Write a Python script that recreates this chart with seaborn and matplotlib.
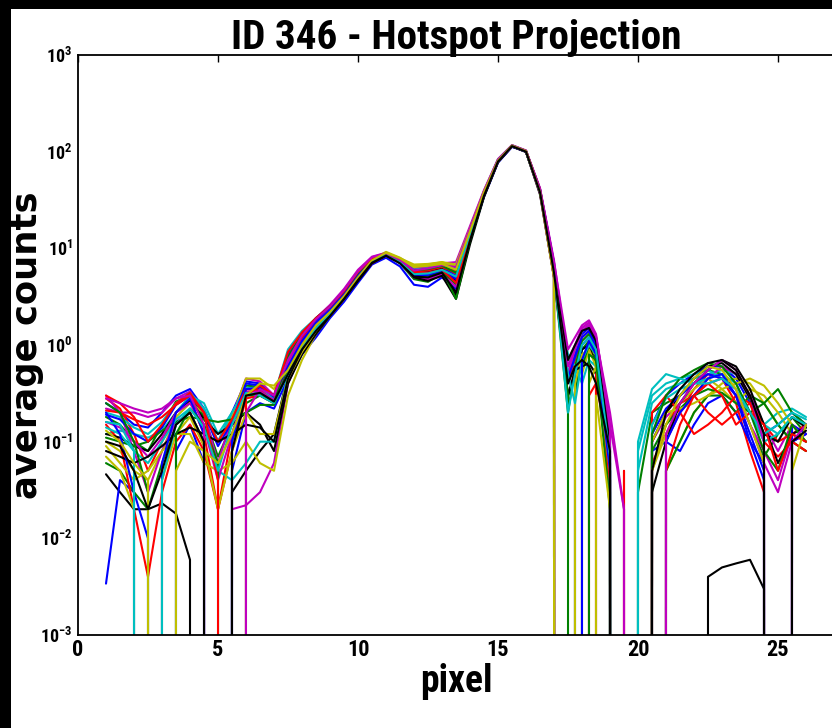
import math
import matplotlib
matplotlib.use("Agg")
import matplotlib.pyplot as plt
from matplotlib import font_manager
from matplotlib.patches import Rectangle
from matplotlib.ticker import FuncFormatter, FixedLocator, LogLocator, NullFormatter
import seaborn as sns
import pandas as pd

# ---------------- data ----------------
title = "ID 346 - Hotspot Projection"
x_label = "pixel"
y_label = "average counts"
x_ticks = [0, 5, 10, 15, 20, 25]
y_ticks = [1e-3, 1e-2, 1e-1, 1e0, 1e1, 1e2, 1e3]

pixel = [1.0, 1.5, 2.0, 2.5, 3.0, 3.5, 4.0, 4.5, 5.0, 5.5, 6.0, 6.5, 7.0,
         7.5, 8.0, 8.5, 9.0, 9.5, 10.0, 10.5, 11.0, 11.5, 12.0, 12.5, 13.0,
         13.5, 14.0, 14.5, 15.0, 15.5, 16.0, 16.5, 17.0,
         17.5, 17.75, 18.0, 18.25, 18.5, 19.0,
         19.5, 20.0, 20.5, 21.0, 21.5, 22.0, 22.5, 23.0, 23.5, 24.0, 24.5,
         25.0, 25.5, 26.0]

series_b1 = [0.25, 0.2, 0.15, 0.14, 0.2, 0.3, 0.35, 0.22, 0.1, 0.2, 0.42, 0.4, 0.3,
             0.8, 1.3, 1.8, 2.4, 3.5, 5.5, 7.8, 8.8, 7.5, 5.5, 5.8, 6.5, 6.0, 15, 38, 82, 116, 102, 40, 6.5,
             0.5, 0.8, 1.3, 1.5, 1.0, 0.08,
             0, 0, 0.15, 0.3, 0.4, 0.5, 0.6, 0.6, 0.45, 0.25, 0.12, 0.15, 0.2, 0.15]
series_g1 = [0.18, 0.15, 0.1, 0.08, 0.15, 0.26, 0.3, 0.18, 0.07, 0.15, 0.38, 0.37, 0.28,
             0.6, 1.1, 1.6, 2.2, 3.2, 5.0, 7.2, 8.5, 7.0, 4.8, 4.5, 5.5, 4.5, 13, 36, 80, 114, 100, 38, 6.0,
             0, 0.3, 0.9, 1.1, 0.7, 0.03,
             0, 0.03, 0.2, 0.25, 0.3, 0.4, 0.55, 0.5, 0.35, 0.15, 0.07, 0.12, 0.18, 0.12]
series_r1 = [0.28, 0.22, 0.12, 0.05, 0.1, 0.2, 0.27, 0.12, 0.02, 0.12, 0.35, 0.35, 0.27,
             0.7, 1.2, 1.7, 2.3, 3.3, 5.2, 7.5, 8.6, 7.4, 5.6, 5.9, 6.3, 5.5, 14, 37, 81, 115, 101, 39, 5.5,
             0.4, 0.7, 1.2, 1.4, 0.9, 0.05,
             0, 0, 0.06, 0.12, 0.2, 0.35, 0.5, 0.45, 0.25, 0.08, 0.03, 0, 0.12, 0.15]
series_c1 = [0.12, 0.13, 0.12, 0.11, 0.13, 0.2, 0.3, 0.25, 0.12, 0.2, 0.3, 0.33, 0.3,
             0.9, 1.4, 1.9, 2.5, 3.7, 5.8, 8.0, 8.9, 7.6, 6.0, 6.3, 6.8, 6.8, 16, 39, 83, 116, 102, 41, 7.0,
             0.6, 0.9, 1.4, 1.6, 1.1, 0.1,
             0, 0.05, 0.25, 0.35, 0.4, 0.45, 0.5, 0.55, 0.5, 0.3, 0.15, 0.2, 0.22, 0.18]
series_m1 = [0.22, 0.2, 0.2, 0.18, 0.2, 0.28, 0.33, 0.2, 0.06, 0.18, 0.45, 0.42, 0.3,
             0.75, 1.3, 1.9, 2.6, 3.8, 6.0, 8.2, 9.0, 7.8, 6.2, 6.5, 7.0, 7.2, 17, 40, 84, 117, 103, 42, 7.5,
             0.7, 1.0, 1.5, 1.7, 1.2, 0.12,
             0, 0, 0.1, 0.18, 0.25, 0.3, 0.45, 0.6, 0.5, 0.3, 0.15, 0.08, 0.15, 0.12]
series_y1 = [0.1, 0.08, 0.05, 0.04, 0.08, 0.18, 0.25, 0.2, 0.1, 0.18, 0.45, 0.45, 0.35,
             0.6, 1.0, 1.5, 2.1, 3.1, 4.8, 7.6, 9.2, 8.0, 6.5, 6.8, 7.2, 6.5, 14, 37, 80, 114, 100, 37, 5.0,
             0, 0, 0.5, 0.9, 0.8, 0.06,
             0, 0, 0, 0.05, 0.1, 0.2, 0.3, 0.4, 0.45, 0.4, 0.25, 0.15, 0.1, 0.08]
series_k1 = [0.046, 0.03, 0.02, 0.02, 0.023, 0.018, 0.006, 0, 0, 0.03, 0.05, 0.08, 0.12,
             0.5, 0.9, 1.5, 2.0, 3.0, 4.6, 7.0, 8.2, 7.2, 5.8, 6.0, 6.2, 3.2, 12, 35, 78, 113, 99, 36, 5.0,
             0.3, 0.5, 0.9, 1.0, 0.6, 0.04,
             0, 0, 0, 0, 0, 0, 0.004, 0.005, 0.0055, 0.006, 0.003, 0, 0, 0]
series_b2 = [0.0034, 0.04, 0.03, 0.01, 0, 0.08, 0.15, 0.06, 0, 0.05, 0.2, 0.25, 0.22,
             0.45, 0.8, 1.2, 1.9, 2.8, 4.4, 6.8, 8.0, 6.5, 4.2, 4.0, 5.0, 3.8, 12, 34, 77, 112, 101, 41, 7.0,
             0, 0.5, 1.0, 1.2, 0.8, 0.05,
             0, 0, 0.08, 0.1, 0.08, 0.15, 0.25, 0.3, 0.2, 0.1, 0.06, 0, 0.1, 0.12]
series_g2 = [0.06, 0.05, 0.03, 0.02, 0.06, 0.15, 0.2, 0.1, 0, 0.1, 0.3, 0.3, 0.26,
             0.65, 1.15, 1.7, 2.3, 3.4, 5.3, 7.6, 8.6, 7.3, 5.2, 5.2, 5.8, 4.2, 13, 36, 80, 114, 100, 38, 5.5,
             0.2, 0.6, 1.1, 1.3, 0.9, 0.06,
             0, 0, 0, 0.05, 0.1, 0.2, 0.3, 0.3, 0.2, 0.3, 0.25, 0.15, 0.1, 0.08]
series_r2 = [0.15, 0.1, 0.02, 0.004, 0.03, 0.1, 0.15, 0.08, 0.02, 0.08, 0.28, 0.3, 0.25,
             0.55, 1.0, 1.6, 2.2, 3.2, 5.0, 7.4, 8.6, 7.2, 5.4, 5.6, 6.0, 5.2, 14, 37, 81, 115, 101, 39, 6.0,
             0, 0, 0, 0.3, 0.4, 0,
             0.05, 0, 0.05, 0.15, 0.25, 0.3, 0.2, 0.15, 0.2, 0.25, 0.15, 0.1, 0.12, 0.1]
series_c2 = [0.2, 0.18, 0.14, 0.12, 0.16, 0.25, 0.32, 0.22, 0.1, 0.2, 0.36, 0.36, 0.28,
             0.7, 1.2, 1.8, 2.4, 3.5, 5.5, 7.8, 8.7, 7.4, 5.8, 6.0, 6.4, 6.2, 15, 38, 82, 115, 101, 40, 6.0,
             0.8, 0.6, 0.4, 0.7, 0.6, 0.05,
             0, 0.08, 0.3, 0.4, 0.45, 0.5, 0.55, 0.45, 0.3, 0.2, 0.15, 0.12, 0.18, 0.15]
series_m2 = [0.3, 0.2, 0.08, 0.03, 0.08, 0.16, 0.2, 0.09, 0, 0.02, 0.022, 0.03, 0.06,
             0.4, 0.85, 1.4, 2.0, 3.0, 4.7, 7.0, 8.4, 7.1, 5.0, 4.8, 5.4, 4.0, 12, 35, 79, 114, 100, 37, 5.0,
             0.5, 0.9, 1.4, 1.6, 1.2, 0.2,
             0.02, 0, 0.1, 0.2, 0.3, 0.4, 0.5, 0.45, 0.3, 0.15, 0.08, 0.04, 0.12, 0.1]
series_y2 = [0.09, 0.06, 0.04, 0.05, 0.08, 0.12, 0.12, 0.06, 0.05, 0.06, 0.1, 0.06, 0.05,
             0.3, 0.7, 1.3, 2.0, 3.0, 4.8, 7.3, 8.8, 7.8, 6.6, 6.8, 7.0, 6.5, 15, 38, 81, 115, 101, 38, 5.5,
             0, 0.4, 0.8, 0.9, 0.6, 0.04,
             0, 0, 0.05, 0.12, 0.25, 0.35, 0.45, 0.35, 0.25, 0.35, 0.3, 0.2, 0.12, 0.1]
series_k2 = [0.12, 0.11, 0.09, 0.08, 0.12, 0.2, 0.27, 0.17, 0.12, 0.15, 0.2, 0.15, 0.08,
             0.4, 0.8, 1.3, 2.0, 3.0, 4.6, 7.0, 8.4, 7.2, 5.0, 4.6, 5.2, 3.0, 11, 34, 78, 113, 100, 38, 5.8,
             0.3, 0.55, 0.6, 0.65, 0.5, 0.1,
             0, 0, 0.1, 0.2, 0.3, 0.45, 0.6, 0.65, 0.5, 0.28, 0.12, 0.1, 0.18, 0.14]
series_b3 = [0.19, 0.17, 0.12, 0.1, 0.14, 0.24, 0.3, 0.2, 0.09, 0.16, 0.4, 0.38, 0.29,
             0.75, 1.25, 1.8, 2.4, 3.5, 5.4, 7.7, 8.7, 7.4, 5.6, 5.7, 6.2, 5.2, 14, 37, 81, 115, 101, 39, 6.2,
             0.45, 0.75, 1.2, 1.4, 0.95, 0.07,
             0, 0, 0.12, 0.22, 0.3, 0.4, 0.5, 0.45, 0.3, 0.12, 0.05, 0, 0.15, 0.12]
series_g3 = [0.11, 0.1, 0.09, 0.1, 0.13, 0.16, 0.18, 0.17, 0.16, 0.17, 0.2, 0.24, 0.24,
             0.55, 1.0, 1.6, 2.2, 3.2, 5.0, 7.4, 8.6, 7.3, 5.5, 5.5, 6.0, 3.0, 12, 35, 79, 114, 100, 38, 6.0,
             0, 0, 0.6, 1.0, 0.8, 0.05,
             0, 0, 0.08, 0.15, 0.22, 0.3, 0.35, 0.32, 0.25, 0.2, 0.25, 0.35, 0.2, 0.15]
series_r3 = [0.21, 0.2, 0.17, 0.15, 0.18, 0.24, 0.3, 0.2, 0.1, 0.17, 0.35, 0.34, 0.26,
             0.7, 1.2, 1.7, 2.3, 3.4, 5.3, 7.6, 8.7, 7.3, 5.7, 5.9, 6.3, 5.8, 14, 37, 81, 115, 101, 39, 6.0,
             0, 0, 0, 0, 0.5, 0.04,
             0, 0, 0.2, 0.3, 0.2, 0.12, 0.15, 0.2, 0.3, 0.25, 0.1, 0.07, 0.1, 0.08]
series_c3 = [0.14, 0.12, 0.08, 0.06, 0.1, 0.17, 0.22, 0.15, 0.05, 0.04, 0.06, 0.1, 0.1,
             0.5, 0.9, 1.5, 2.1, 3.1, 4.9, 7.3, 8.6, 7.5, 6.0, 6.2, 6.6, 6.2, 15, 38, 82, 116, 102, 40, 6.5,
             0.5, 0.25, 0.7, 1.0, 0.8, 0.06,
             0, 0, 0.15, 0.28, 0.35, 0.4, 0.45, 0.5, 0.4, 0.2, 0.1, 0.12, 0.18, 0.15]
series_m3 = [0.16, 0.14, 0.1, 0.07, 0.11, 0.2, 0.25, 0.14, 0.04, 0.12, 0.33, 0.33, 0.27,
             0.65, 1.1, 1.7, 2.3, 3.3, 5.1, 7.5, 8.7, 7.4, 5.4, 5.4, 6.0, 5.0, 14, 37, 80, 114, 100, 38, 5.8,
             0.6, 0.95, 1.5, 1.7, 1.25, 0.15,
             0.02, 0, 0, 0.1, 0.2, 0.3, 0.4, 0.45, 0.35, 0.15, 0.06, 0.03, 0.1, 0.12]
series_y3 = [0.07, 0.05, 0.02, 0, 0.04, 0.12, 0.18, 0.09, 0.02, 0.08, 0.2, 0.12, 0.12,
             0.45, 0.85, 1.4, 2.1, 3.1, 4.9, 7.4, 8.9, 7.9, 6.8, 6.9, 7.2, 6.8, 16, 39, 82, 116, 102, 39, 5.0,
             0, 0, 0, 0.4, 0.6, 0.05,
             0, 0, 0.1, 0.2, 0.22, 0.25, 0.3, 0.35, 0.4, 0.45, 0.38, 0.25, 0.15, 0.1]
series_k3 = [0.08, 0.07, 0.06, 0.07, 0.09, 0.12, 0.14, 0.12, 0.1, 0.12, 0.15, 0.14, 0.1,
             0.45, 0.9, 1.5, 2.1, 3.1, 4.8, 7.2, 8.5, 7.2, 5.5, 5.6, 6.1, 4.6, 13, 36, 80, 114, 101, 39, 6.2,
             0.7, 1.0, 1.4, 1.5, 1.1, 0.09,
             0, 0, 0.03, 0.1, 0.25, 0.4, 0.55, 0.7, 0.6, 0.35, 0.15, 0.06, 0.12, 0.14]
series_b4 = [0.2, 0.12, 0.03, 0, 0.06, 0.2, 0.28, 0.12, 0, 0.1, 0.35, 0.36, 0.3,
             0.6, 1.1, 1.7, 2.3, 3.4, 5.3, 7.6, 8.6, 7.2, 5.3, 5.3, 5.9, 4.8, 13, 36, 80, 114, 100, 38, 5.8,
             0, 0, 0.7, 1.1, 0.8, 0.05,
             0, 0, 0, 0.1, 0.2, 0.3, 0.45, 0.5, 0.3, 0.1, 0.04, 0, 0.1, 0.12]
series_g4 = [0.25, 0.2, 0.1, 0.03, 0, 0.12, 0.22, 0.15, 0.06, 0, 0.25, 0.3, 0.25,
             0.75, 1.3, 1.9, 2.5, 3.6, 5.6, 7.9, 8.8, 7.5, 5.9, 6.1, 6.6, 5.6, 14, 37, 81, 115, 101, 39, 6.0,
             0.3, 0, 0, 0.8, 0.7, 0.02,
             0, 0, 0.12, 0.3, 0.45, 0.55, 0.65, 0.6, 0.4, 0.2, 0.08, 0.05, 0.15, 0.1]
series_r4 = [0.3, 0.25, 0.18, 0.1, 0.15, 0.25, 0.32, 0.2, 0.04, 0, 0.3, 0.38, 0.3,
             0.85, 1.35, 1.9, 2.5, 3.6, 5.7, 7.9, 8.9, 7.6, 5.7, 5.6, 6.0, 4.4, 13, 36, 80, 115, 102, 41, 6.8,
             0, 0, 0, 0, 0, 0,
             0, 0, 0, 0.05, 0.15, 0.3, 0.4, 0.3, 0.15, 0.2, 0.15, 0.05, 0.12, 0.1]
series_c4 = [0.16, 0.15, 0.08, 0, 0.04, 0.15, 0.22, 0.14, 0.05, 0.15, 0.32, 0.3, 0.25,
             0.5, 0.95, 1.5, 2.1, 3.1, 4.9, 7.3, 8.5, 7.2, 5.4, 5.5, 6.0, 5.1, 14, 37, 81, 115, 101, 39, 6.2,
             0.2, 0.5, 1.0, 1.2, 0.9, 0.07,
             0, 0.1, 0.35, 0.5, 0.45, 0.4, 0.4, 0.45, 0.35, 0.2, 0.12, 0.15, 0.2, 0.17]
series_m4 = [0.28, 0.25, 0.22, 0.2, 0.22, 0.28, 0.3, 0.15, 0, 0, 0.2, 0.35, 0.3,
             0.7, 1.25, 1.85, 2.5, 3.7, 5.8, 8.1, 8.9, 7.6, 5.9, 6.2, 6.7, 6.4, 16, 39, 83, 116, 102, 41, 7.2,
             0.9, 1.2, 1.6, 1.8, 1.3, 0.15,
             0, 0, 0, 0.12, 0.25, 0.4, 0.55, 0.7, 0.55, 0.3, 0.1, 0, 0.1, 0.15]
series_y4 = [0.13, 0.1, 0.06, 0.04, 0, 0.05, 0.1, 0.08, 0.06, 0.12, 0.3, 0.4, 0.38,
             0.55, 1.0, 1.6, 2.2, 3.2, 5.0, 7.5, 9.0, 7.9, 6.4, 6.6, 6.9, 6.0, 15, 38, 81, 115, 101, 38, 5.2,
             0, 0, 0, 0, 0.3, 0.02,
             0, 0, 0.05, 0.15, 0.3, 0.45, 0.6, 0.55, 0.35, 0.15, 0.06, 0, 0.05, 0.15]
series_k4 = [0.1, 0.09, 0.05, 0.02, 0.05, 0.15, 0.2, 0.1, 0, 0.08, 0.3, 0.32, 0.26,
             0.5, 0.9, 1.4, 2.0, 3.0, 4.7, 7.1, 8.4, 7.0, 5.1, 5.0, 5.6, 3.5, 12, 35, 79, 114, 100, 38, 5.6,
             0.4, 0.6, 0.7, 0.6, 0.4, 0.08,
             0, 0, 0.05, 0.2, 0.35, 0.5, 0.65, 0.7, 0.55, 0.3, 0.12, 0, 0.1, 0.13]

series = {
    "b1": series_b1, "g1": series_g1, "r1": series_r1, "c1": series_c1,
    "m1": series_m1, "y1": series_y1, "k1": series_k1,
    "b2": series_b2, "g2": series_g2, "r2": series_r2, "c2": series_c2,
    "m2": series_m2, "y2": series_y2, "k2": series_k2,
    "b3": series_b3, "g3": series_g3, "r3": series_r3, "c3": series_c3,
    "m3": series_m3, "y3": series_y3, "k3": series_k3,
    "b4": series_b4, "g4": series_g4, "r4": series_r4, "c4": series_c4,
    "m4": series_m4, "y4": series_y4, "k4": series_k4,
}
classic = {"b": "#0000ff", "g": "#008000", "r": "#ff0000", "c": "#00bfbf",
           "m": "#bf00bf", "y": "#bfbf00", "k": "#000000"}

rows = []
for name, vals in series.items():
    for xv, yv in zip(pixel, vals):
        rows.append({"pixel": xv, "counts": yv, "series": name})
df = pd.DataFrame(rows)
palette = {name: classic[name[0]] for name in series}


# ---------------- fonts ----------------
def first_font(cands):
    for c in cands:
        try:
            font_manager.findfont(font_manager.FontProperties(family=c, weight="bold"),
                                  fallback_to_default=False)
            return c
        except Exception:
            pass
    return "DejaVu Sans"


narrow_name = first_font(["Liberation Sans Narrow", "Roboto Condensed",
                          "Open Sans Condensed", "DejaVu Sans Condensed",
                          "Liberation Sans"])
narrow = [narrow_name, "DejaVu Sans"]

sns.set_style("white")
plt.rcParams["font.family"] = narrow
plt.rcParams["text.color"] = "black"
plt.rcParams["axes.labelcolor"] = "black"
plt.rcParams["xtick.color"] = "black"
plt.rcParams["ytick.color"] = "black"
plt.rcParams["mathtext.fontset"] = "custom"
plt.rcParams["mathtext.bf"] = narrow_name + ":bold"
plt.rcParams["mathtext.rm"] = narrow_name + ":bold"

W, H = 832, 728
fig = plt.figure(figsize=(W / 100, H / 100), dpi=100, facecolor="white")
ax = fig.add_axes([78 / W, 93 / H, 756 / W, 580 / H])

sns.lineplot(data=df, x="pixel", y="counts", hue="series", palette=palette,
             estimator=None, sort=False, legend=False, linewidth=1.5, ax=ax)
ax.set_yscale("log")
ax.set_ylim(1e-3, 1e3)
ax.set_xlim(0, 27)
ax.set_xticks(x_ticks)
ax.yaxis.set_major_locator(FixedLocator(y_ticks))
ax.yaxis.set_minor_locator(LogLocator(base=10, subs=range(2, 10), numticks=20))
ax.yaxis.set_major_formatter(FuncFormatter(lambda v, p: r"$\mathbf{10^{%d}}$" % round(math.log10(v))))
ax.yaxis.set_minor_formatter(NullFormatter())

ax.tick_params(axis="both", which="both", direction="in", top=True, right=False,
               colors="black")
ax.tick_params(axis="both", which="major", length=5, width=1)
ax.tick_params(axis="both", which="minor", length=2.5, width=0.8)
ax.tick_params(axis="x", labelsize=16, pad=3)
ax.tick_params(axis="y", labelsize=13, pad=4)
for lab in ax.get_xticklabels():
    lab.set_fontweight("bold")
for sp in ax.spines.values():
    sp.set_linewidth(1.3)
    sp.set_color("black")

t = ax.set_title(title, fontsize=26, fontweight="bold", pad=4, family=narrow,
                 color="black")
ax.set_xlabel(x_label, fontsize=27, fontweight="bold", labelpad=1, family=narrow,
              color="black")
ax.set_ylabel(y_label, fontsize=25.5, fontweight="bold", family=["DejaVu Sans"],
              color="black")
ax.yaxis.set_label_coords(-0.0445, 0.5)

# fit the title to the reference width (about 450 px)
fig.canvas.draw()
tw = t.get_window_extent().width
if tw > 0:
    t.set_fontsize(26 * 450 / tw)

# black frame strips of the screenshot
fig.add_artist(Rectangle((0, 0), 11 / W, 1, transform=fig.transFigure,
                         facecolor="black", edgecolor="none", zorder=10))
fig.add_artist(Rectangle((0, 1 - 9 / H), 1, 9 / H, transform=fig.transFigure,
                         facecolor="black", edgecolor="none", zorder=10))

fig.savefig("out.png", dpi=100, facecolor="white")
